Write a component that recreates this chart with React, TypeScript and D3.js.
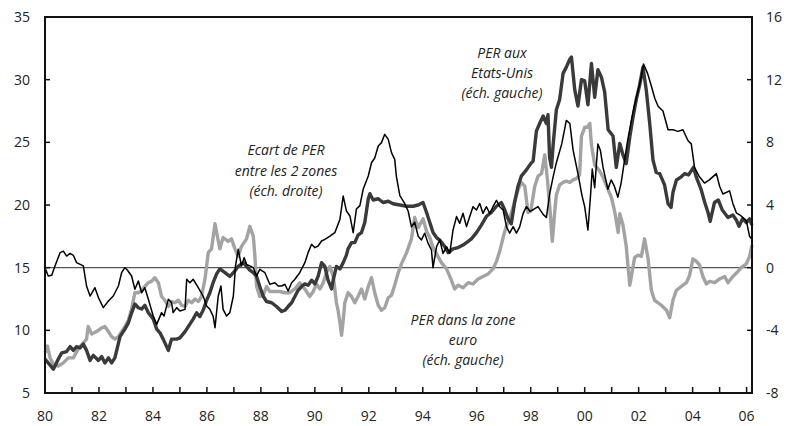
import React from "react";
import * as d3 from "d3";

// PER aux Etats-Unis (left scale) — [year, value]
const usPER: [number, number][] = [
  [1980.0, 7.7], [1980.12, 7.4], [1980.31, 6.9], [1980.49, 7.7], [1980.62, 8.2], [1980.8, 8.3], [1980.93, 8.7],
  [1981.05, 8.4], [1981.17, 8.7], [1981.3, 8.6], [1981.42, 8.9], [1981.54, 8.4], [1981.67, 7.6], [1981.79, 8.0],
  [1981.98, 7.6], [1982.1, 7.9], [1982.22, 7.4], [1982.35, 7.8], [1982.47, 7.4], [1982.59, 7.8], [1982.78, 9.5],
  [1982.96, 10.1], [1983.09, 10.6], [1983.21, 11.4], [1983.33, 12.1], [1983.46, 11.8], [1983.58, 11.7], [1983.7, 12.0],
  [1983.83, 11.4], [1984.01, 10.9], [1984.14, 10.1], [1984.26, 9.8], [1984.38, 9.3], [1984.57, 8.4], [1984.69, 9.3],
  [1984.88, 9.3], [1985.0, 9.4], [1985.19, 9.9], [1985.31, 10.3], [1985.49, 10.9], [1985.62, 11.4], [1985.74, 11.1],
  [1985.86, 11.6], [1985.99, 12.4], [1986.11, 13.0], [1986.23, 13.8], [1986.36, 14.5], [1986.48, 14.9], [1986.67, 14.6],
  [1986.85, 14.3], [1986.98, 14.6], [1987.16, 15.1], [1987.35, 15.4], [1987.47, 15.1], [1987.59, 14.8], [1987.72, 14.6],
  [1987.84, 14.3], [1987.96, 13.5], [1988.09, 12.7], [1988.21, 12.3], [1988.4, 12.2], [1988.58, 11.9], [1988.77, 11.5],
  [1988.89, 11.6], [1989.01, 11.9], [1989.14, 12.2], [1989.26, 12.7], [1989.38, 13.2], [1989.51, 13.5], [1989.63, 13.7],
  [1989.75, 13.6], [1989.88, 14.0], [1990.0, 13.7], [1990.12, 14.3], [1990.25, 15.4], [1990.37, 15.1], [1990.49, 14.0],
  [1990.62, 13.3], [1990.68, 14.0], [1990.8, 15.1], [1990.93, 14.9], [1991.05, 15.4], [1991.17, 16.0], [1991.23, 16.5],
  [1991.36, 17.0], [1991.48, 17.0], [1991.6, 17.6], [1991.73, 17.8], [1991.85, 18.6], [1991.98, 20.5], [1992.04, 20.9],
  [1992.16, 20.4], [1992.35, 20.5], [1992.53, 20.2], [1992.72, 20.3], [1992.9, 20.1], [1993.15, 20.0], [1993.4, 19.9],
  [1993.64, 19.9], [1993.83, 20.0], [1994.01, 20.2], [1994.14, 19.4], [1994.26, 18.6], [1994.38, 17.8], [1994.51, 17.4],
  [1994.63, 17.2], [1994.81, 16.7], [1994.94, 16.2], [1995.12, 16.5], [1995.31, 16.6], [1995.49, 16.8], [1995.68, 17.1],
  [1995.8, 17.3], [1995.99, 17.8], [1996.17, 18.4], [1996.36, 19.1], [1996.54, 19.4], [1996.73, 19.9], [1996.91, 20.2],
  [1997.04, 19.6], [1997.16, 18.9], [1997.28, 18.5], [1997.41, 20.3], [1997.53, 21.5], [1997.65, 22.3], [1997.84, 22.8],
  [1998.0, 23.3], [1998.09, 23.5], [1998.21, 25.9], [1998.33, 26.5], [1998.46, 27.1], [1998.58, 26.5], [1998.64, 27.2],
  [1998.7, 23.8], [1998.77, 23.0], [1998.83, 24.8], [1998.95, 27.6], [1999.07, 28.4], [1999.2, 30.5], [1999.32, 31.0],
  [1999.44, 31.6], [1999.51, 31.8], [1999.63, 29.2], [1999.75, 27.9], [1999.88, 30.0], [2000.0, 29.9], [2000.12, 28.0],
  [2000.25, 31.3], [2000.37, 28.6], [2000.49, 30.8], [2000.62, 30.2], [2000.74, 29.0], [2000.87, 26.0], [2001.05, 25.5],
  [2001.17, 23.0], [2001.3, 24.9], [2001.42, 24.0], [2001.54, 23.3], [2001.67, 25.4], [2001.79, 27.0], [2001.91, 28.4],
  [2002.04, 29.6], [2002.16, 31.0], [2002.28, 29.2], [2002.41, 26.5], [2002.53, 23.6], [2002.65, 22.6], [2002.78, 22.5],
  [2002.96, 21.6], [2003.09, 20.1], [2003.2, 19.8], [2003.27, 21.0], [2003.4, 22.0], [2003.55, 22.2], [2003.7, 22.5],
  [2003.85, 22.4], [2004.03, 23.0], [2004.14, 22.2], [2004.32, 21.2], [2004.45, 20.2], [2004.57, 19.4], [2004.65, 18.7],
  [2004.81, 20.2], [2004.95, 20.4], [2005.1, 19.6], [2005.31, 19.0], [2005.49, 19.2], [2005.62, 18.8], [2005.72, 18.3],
  [2005.85, 18.9], [2005.99, 18.6], [2006.11, 18.9], [2006.2, 18.4],
];

// PER dans la zone euro (left scale) — [year, value]
const euroPER: [number, number][] = [
  [1980.0, 8.2], [1980.09, 8.75], [1980.19, 7.8], [1980.31, 7.3], [1980.49, 7.15], [1980.68, 7.4], [1980.86, 7.8],
  [1981.05, 7.8], [1981.23, 8.5], [1981.42, 9.0], [1981.54, 9.3], [1981.6, 10.3], [1981.73, 9.7], [1981.91, 9.9],
  [1982.1, 10.2], [1982.22, 10.3], [1982.35, 9.9], [1982.47, 9.5], [1982.59, 9.3], [1982.72, 9.5], [1982.84, 9.9],
  [1982.96, 10.3], [1983.09, 10.8], [1983.21, 11.7], [1983.33, 13.0], [1983.46, 13.0], [1983.58, 13.2], [1983.7, 13.5],
  [1983.83, 13.8], [1983.95, 13.9], [1984.07, 14.2], [1984.2, 13.8], [1984.32, 12.7], [1984.44, 12.4], [1984.57, 11.9],
  [1984.69, 12.3], [1984.81, 12.2], [1984.94, 12.4], [1985.06, 12.0], [1985.19, 11.9], [1985.31, 12.4], [1985.43, 12.2],
  [1985.56, 12.5], [1985.68, 12.3], [1985.8, 12.7], [1985.93, 14.1], [1986.05, 16.2], [1986.17, 16.5], [1986.3, 18.5],
  [1986.48, 16.5], [1986.6, 17.4], [1986.79, 17.1], [1986.91, 17.3], [1987.04, 16.5], [1987.16, 15.9], [1987.28, 16.7],
  [1987.47, 17.3], [1987.59, 18.3], [1987.72, 17.5], [1987.78, 15.9], [1987.84, 13.5], [1987.96, 12.7], [1988.09, 12.8],
  [1988.21, 13.5], [1988.33, 13.1], [1988.52, 13.1], [1988.7, 13.1], [1988.89, 13.0], [1989.07, 13.0], [1989.26, 13.3],
  [1989.44, 13.8], [1989.63, 13.3], [1989.81, 12.7], [1989.94, 13.1], [1990.06, 13.7], [1990.19, 13.3], [1990.31, 13.8],
  [1990.43, 14.6], [1990.56, 15.1], [1990.68, 14.3], [1990.74, 13.3], [1990.8, 12.2], [1990.86, 11.6], [1990.93, 10.6],
  [1990.99, 9.6], [1991.05, 10.8], [1991.11, 12.2], [1991.23, 13.0], [1991.36, 12.7], [1991.48, 12.2], [1991.6, 12.7],
  [1991.73, 13.3], [1991.85, 12.5], [1991.98, 13.5], [1992.1, 14.2], [1992.22, 13.0], [1992.35, 12.0], [1992.47, 11.6],
  [1992.59, 11.8], [1992.72, 12.6], [1992.84, 12.8], [1992.96, 13.6], [1993.09, 14.6], [1993.21, 15.3], [1993.4, 16.2],
  [1993.58, 17.3], [1993.7, 19.0], [1993.83, 18.2], [1994.01, 18.9], [1994.14, 17.9], [1994.26, 17.4], [1994.38, 16.6],
  [1994.51, 16.1], [1994.69, 15.4], [1994.88, 14.9], [1995.06, 14.0], [1995.18, 13.3], [1995.31, 13.6], [1995.49, 13.4],
  [1995.68, 13.8], [1995.86, 13.7], [1996.05, 14.1], [1996.23, 14.3], [1996.42, 14.5], [1996.6, 14.9], [1996.73, 15.5],
  [1996.85, 16.3], [1997.0, 17.6], [1997.1, 18.3], [1997.22, 18.9], [1997.41, 20.3], [1997.53, 21.2], [1997.65, 21.8],
  [1997.78, 21.5], [1997.9, 19.4], [1998.0, 19.5], [1998.15, 21.5], [1998.27, 22.3], [1998.4, 22.5], [1998.52, 24.0],
  [1998.62, 22.0], [1998.7, 20.0], [1998.8, 17.1], [1998.89, 19.5], [1998.95, 20.8], [1999.07, 21.6], [1999.2, 21.8],
  [1999.32, 21.9], [1999.45, 21.8], [1999.57, 22.0], [1999.69, 22.1], [1999.81, 22.4], [1999.88, 25.5], [2000.0, 26.2],
  [2000.1, 26.2], [2000.19, 26.5], [2000.25, 24.8], [2000.37, 23.2], [2000.56, 22.7], [2000.68, 22.2], [2000.87, 21.2],
  [2000.99, 20.6], [2001.11, 19.5], [2001.24, 17.8], [2001.3, 19.3], [2001.42, 18.4], [2001.54, 16.7], [2001.67, 13.6],
  [2001.73, 14.3], [2001.85, 15.8], [2001.98, 16.0], [2002.1, 15.9], [2002.22, 17.3], [2002.35, 15.7], [2002.47, 13.2],
  [2002.59, 12.4], [2002.72, 12.2], [2002.84, 12.0], [2003.03, 11.6], [2003.15, 11.0], [2003.27, 12.4], [2003.4, 13.2],
  [2003.52, 13.4], [2003.64, 13.6], [2003.77, 13.8], [2003.89, 14.4], [2004.01, 15.7], [2004.14, 15.5], [2004.26, 15.2],
  [2004.38, 14.3], [2004.51, 13.7], [2004.63, 13.9], [2004.82, 13.8], [2005.0, 14.1], [2005.19, 14.3], [2005.31, 13.8],
  [2005.49, 14.3], [2005.68, 14.7], [2005.8, 15.0], [2005.99, 15.3], [2006.11, 15.9], [2006.2, 16.8],
];

// Ecart de PER entre les 2 zones (right scale) — [year, value]
const ecartPER: [number, number][] = [
  [1980.0, 0], [1980.12, -0.53], [1980.25, -0.49], [1980.37, 0.11], [1980.56, 0.96], [1980.68, 1.06], [1980.8, 0.74],
  [1980.93, 0.91], [1981.05, 0.79], [1981.17, 0.32], [1981.42, 0.11], [1981.54, -1.17], [1981.67, -1.81], [1981.85, -1.28],
  [1981.98, -1.91], [1982.16, -2.55], [1982.35, -2.13], [1982.53, -1.81], [1982.72, -1.17], [1982.84, -0.32], [1982.96, 0],
  [1983.05, -0.15], [1983.21, -0.53], [1983.33, -1.38], [1983.46, -0.85], [1983.58, -1.6], [1983.7, -1.28], [1983.83, -2.02],
  [1984.01, -3.09], [1984.14, -3.62], [1984.32, -2.87], [1984.41, -3.09], [1984.57, -2.02], [1984.69, -2.23], [1984.75, -2.87],
  [1984.88, -2.55], [1985.0, -2.77], [1985.19, -2.66], [1985.25, -0.74], [1985.37, -0.96], [1985.49, -0.74], [1985.68, -1.28],
  [1985.86, -1.81], [1985.99, -2.45], [1986.11, -2.66], [1986.23, -3.09], [1986.3, -3.83], [1986.42, -1.81], [1986.52, -1.17],
  [1986.6, -2.66], [1986.73, -3.09], [1986.85, -2.87], [1986.98, -1.81], [1987.06, 0.11], [1987.16, 1.17], [1987.28, 0.11],
  [1987.38, 0.64], [1987.47, 0.21], [1987.59, 0.11], [1987.72, 0], [1987.84, -0.53], [1987.96, -0.11], [1988.15, -0.32],
  [1988.33, -1.06], [1988.52, -0.96], [1988.64, -1.17], [1988.77, -1.17], [1988.89, -1.06], [1989.01, -1.49], [1989.14, -0.96],
  [1989.26, -0.74], [1989.44, -0.32], [1989.63, 0.32], [1989.75, 0.96], [1989.88, 1.49], [1990.0, 1.28], [1990.12, 1.38],
  [1990.25, 1.7], [1990.37, 1.81], [1990.56, 2.02], [1990.74, 2.23], [1990.93, 3.09], [1991.05, 4.57], [1991.17, 3.62],
  [1991.3, 3.3], [1991.42, 2.23], [1991.54, 3.74], [1991.67, 3.96], [1991.79, 5.0], [1991.98, 5.85], [1992.1, 6.7],
  [1992.22, 7.0], [1992.35, 7.77], [1992.47, 7.98], [1992.59, 8.51], [1992.72, 8.19], [1992.84, 7.34], [1992.96, 6.91],
  [1993.02, 5.85], [1993.15, 4.6], [1993.33, 4.1], [1993.46, 3.6], [1993.58, 2.6], [1993.7, 2.9], [1993.83, 2.0],
  [1993.95, 1.77], [1994.07, 2.2], [1994.2, 1.55], [1994.32, 1.13], [1994.38, 0], [1994.51, 1.34], [1994.63, 1.77],
  [1994.75, 0.91], [1994.88, 1.34], [1995.0, 0.91], [1995.12, 2.4], [1995.25, 3.26], [1995.37, 2.83], [1995.49, 3.47],
  [1995.62, 2.62], [1995.74, 3.26], [1995.86, 3.89], [1995.99, 3.68], [1996.11, 4.1], [1996.23, 3.47], [1996.36, 3.89],
  [1996.48, 3.47], [1996.6, 3.89], [1996.73, 4.3], [1996.85, 3.89], [1996.98, 3.68], [1997.1, 2.62], [1997.22, 2.2],
  [1997.35, 2.62], [1997.47, 2.2], [1997.59, 2.6], [1997.72, 3.47], [1997.84, 3.9], [1997.97, 3.6], [1998.09, 3.7],
  [1998.27, 3.9], [1998.46, 3.4], [1998.58, 3.2], [1998.7, 4.7], [1998.83, 5.8], [1998.95, 6.7], [1999.15, 7.9],
  [1999.32, 9.4], [1999.45, 9.2], [1999.57, 7.5], [1999.75, 6.0], [1999.9, 4.6], [2000.0, 3.9], [2000.12, 2.4],
  [2000.22, 4.7], [2000.28, 6.3], [2000.37, 5.1], [2000.49, 7.9], [2000.58, 7.5], [2000.68, 6.4], [2000.86, 5.0],
  [2000.98, 5.6], [2001.1, 5.2], [2001.23, 4.5], [2001.35, 5.4], [2001.48, 6.9], [2001.6, 8.2], [2001.73, 9.4],
  [2001.85, 10.4], [2001.98, 11.3], [2002.1, 12.2], [2002.18, 13.0], [2002.33, 12.4], [2002.47, 11.6], [2002.6, 10.8],
  [2002.72, 10.3], [2002.9, 10.0], [2003.09, 8.8], [2003.27, 8.8], [2003.46, 8.7], [2003.64, 8.8], [2003.83, 8.1],
  [2003.95, 7.9], [2004.07, 6.4], [2004.25, 5.8], [2004.44, 5.4], [2004.62, 5.6], [2004.88, 6.0], [2005.0, 5.2],
  [2005.12, 4.7], [2005.37, 4.9], [2005.49, 4.1], [2005.62, 3.5], [2005.8, 3.3], [2005.99, 3.0], [2006.11, 2.0],
  [2006.2, 1.8],
];

const leftTicks = [5, 10, 15, 20, 25, 30, 35];
const rightTicks = [-8, -4, 0, 4, 8, 12, 16];
const yearTicks = d3.range(1980, 2007);
const yearLabels = yearTicks.filter((y) => y % 2 === 0);

const usNote = ["PER aux", "Etats-Unis", "(éch. gauche)"];
const ecartNote = ["Ecart de PER", "entre les 2 zones", "(éch. droite)"];
const euroNote = ["PER dans la zone", "euro", "(éch. gauche)"];

const W = 787;
const H = 426;
const M = { left: 45, right: 752, top: 17, bottom: 393 };
const FONT = "'Open Sans', Lato, sans-serif";

export default function App() {
  const x = d3.scaleLinear().domain([1980, 2006.2]).range([M.left, M.right]);
  const yL = d3.scaleLinear().domain([5, 35]).range([M.bottom, M.top]);
  const yR = d3.scaleLinear().domain([-8, 16]).range([M.bottom, M.top]);

  const lineL = d3.line<[number, number]>().x((d) => x(d[0])).y((d) => yL(d[1]));
  const lineR = d3.line<[number, number]>().x((d) => x(d[0])).y((d) => yR(d[1]));

  const note = (lines: string[], cx: number, y0: number, dy: number) =>
    lines.map((t, i) => (
      <text key={i} x={cx} y={y0 + i * dy} textAnchor="middle" fontStyle="italic" fontSize={14} fill="#222" fontFamily={FONT}>
        {t}
      </text>
    ));

  return (
    <svg width={W} height={H} style={{ position: "absolute", left: 0, top: 0, background: "#fff" }}>
      <rect x={0} y={0} width={W} height={H} fill="#fff" />
      {/* zero / 15 reference line */}
      <line x1={M.left} x2={M.right} y1={yL(15)} y2={yL(15)} stroke="#555" strokeWidth={1.3} />

      <path d={lineL(euroPER) || ""} fill="none" stroke="#a3a3a3" strokeWidth={3.4} strokeLinejoin="round" />
      <path d={lineL(usPER) || ""} fill="none" stroke="#3a3a3a" strokeWidth={3.4} strokeLinejoin="round" />
      <path d={lineR(ecartPER) || ""} fill="none" stroke="#000" strokeWidth={1.5} strokeLinejoin="round" />

      {/* frame */}
      <rect x={M.left} y={M.top} width={M.right - M.left} height={M.bottom - M.top} fill="none" stroke="#111" strokeWidth={2} />

      {/* left ticks */}
      {leftTicks.map((t) => (
        <g key={"l" + t}>
          <line x1={M.left} x2={M.left + 5} y1={yL(t)} y2={yL(t)} stroke="#111" strokeWidth={1.5} />
          <text x={30} y={yL(t)} dy="0.36em" textAnchor="end" fontSize={14} fill="#222" fontFamily={FONT}>
            {t}
          </text>
        </g>
      ))}
      {/* right ticks */}
      {rightTicks.map((t) => (
        <g key={"r" + t}>
          <line x1={M.right - 5} x2={M.right} y1={yR(t)} y2={yR(t)} stroke="#111" strokeWidth={1.5} />
          <text x={766} y={yR(t)} dy="0.36em" textAnchor="start" fontSize={14} fill="#222" fontFamily={FONT}>
            {t}
          </text>
        </g>
      ))}
      {/* bottom ticks */}
      {yearTicks.map((t) => (
        <line key={"b" + t} x1={x(t)} x2={x(t)} y1={M.bottom} y2={M.bottom - 6} stroke="#111" strokeWidth={1.5} />
      ))}
      {yearLabels.map((t) => (
        <text key={"bl" + t} x={x(t)} y={421} textAnchor="middle" fontSize={14} fill="#222" fontFamily={FONT}>
          {String(t).slice(2)}
        </text>
      ))}

      {note(usNote, 502, 58, 20)}
      {note(ecartNote, 286, 155, 20.7)}
      {note(euroNote, 463, 325, 20)}
    </svg>
  );
}
